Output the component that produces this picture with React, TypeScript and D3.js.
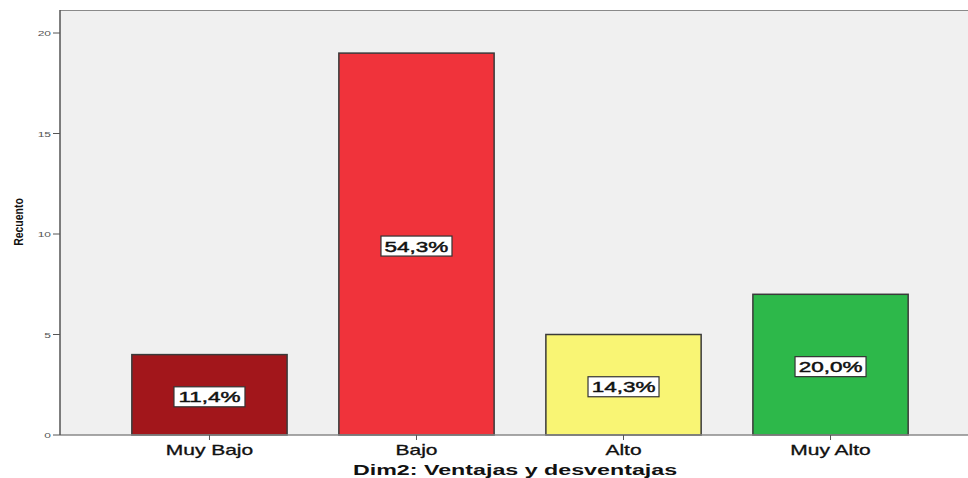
import React from "react";
import * as d3 from "d3";

const categories = ["Muy Bajo", "Bajo", "Alto", "Muy Alto"];
const counts = [4, 19, 5, 7];
const percentLabels = ["11,4%", "54,3%", "14,3%", "20,0%"];
const barColors = ["#a2161b", "#f0333b", "#f9f574", "#2db84a"];
const yTicks = [0, 5, 10, 15, 20];
const yAxisTitle = "Recuento";
const xAxisTitle = "Dim2: Ventajas y desventajas";

const W = 968;
const H = 478;
const SX = 1.5;
const FONT = "'Liberation Sans', Arial, sans-serif";

export default function App() {
  const left = 60;
  const top = 10;
  const bottom = 435;
  const x = d3
    .scaleBand<string>()
    .domain(categories)
    .range([left, 980])
    .paddingInner(0.25)
    .paddingOuter(0.347);
  const y = d3.scaleLinear().domain([0, 20]).range([bottom, 33]);

  return (
    <svg
      width={W}
      height={H}
      style={{ position: "absolute", left: 0, top: 0, background: "#fff" }}
      fontFamily={FONT}
    >
      <rect x={left} y={top} width={W - left + 10} height={bottom - top} fill="#f0f0f0" />
      <line x1={left} x2={W} y1={top + 0.5} y2={top + 0.5} stroke="#8a8a8a" strokeWidth={1.2} />

      {categories.map((c, i) => {
        const bx = x(c)!;
        const by = y(counts[i]);
        const bw = x.bandwidth();
        const bh = bottom - by;
        return (
          <g key={c}>
            <rect x={bx} y={by} width={bw} height={bh} fill={barColors[i]} stroke="#3a3a3a" strokeWidth={1.5} />
          </g>
        );
      })}

      {categories.map((c, i) => {
        const cx = x(c)! + x.bandwidth() / 2;
        const cy = (y(counts[i]) + bottom) / 2 + 2;
        return (
          <g key={"l" + c}>
            <rect x={cx - 35.5} y={cy - 10} width={71} height={20} fill="#ffffff" stroke="#333" strokeWidth={1.2} />
            <text
              transform={`translate(${cx},${cy + 5.5}) scale(${SX},1)`}
              textAnchor="middle"
              fontSize={15}
              fill="#111"
              stroke="#111"
              strokeWidth={0.45}
            >
              {percentLabels[i]}
            </text>
          </g>
        );
      })}

      {/* axes */}
      <line x1={left} x2={W} y1={bottom} y2={bottom} stroke="#8a8a8a" strokeWidth={1.5} />
      <line x1={left} x2={left} y1={top} y2={bottom} stroke="#555" strokeWidth={1.5} />

      {yTicks.map((t) => (
        <g key={t}>
          <line x1={left - 7} x2={left} y1={y(t)} y2={y(t)} stroke="#555" strokeWidth={1} />
          <text
            transform={`translate(${left - 9},${y(t) + 3}) scale(${SX},1)`}
            textAnchor="end"
            fontSize={8}
            fill="#555"
          >
            {t}
          </text>
        </g>
      ))}

      {categories.map((c) => {
        const cx = x(c)! + x.bandwidth() / 2;
        return (
          <g key={"x" + c}>
            <line x1={cx} x2={cx} y1={bottom} y2={bottom + 5} stroke="#555" strokeWidth={1} />
            <text
              transform={`translate(${cx},${bottom + 20}) scale(${SX},1)`}
              textAnchor="middle"
              fontSize={14}
              fill="#111"
              stroke="#111"
              strokeWidth={0.3}
            >
              {c}
            </text>
          </g>
        );
      })}

      <text
        transform={`translate(22.5,222) scale(1.3,1) rotate(-90)`}
        textAnchor="middle"
        fontSize={10.5}
        fontWeight="bold"
        fill="#111"
      >
        {yAxisTitle}
      </text>

      <text
        transform={`translate(515,475) scale(${SX},1)`}
        textAnchor="middle"
        fontSize={15.5}
        fontWeight="bold"
        fill="#111"
      >
        {xAxisTitle}
      </text>
    </svg>
  );
}
